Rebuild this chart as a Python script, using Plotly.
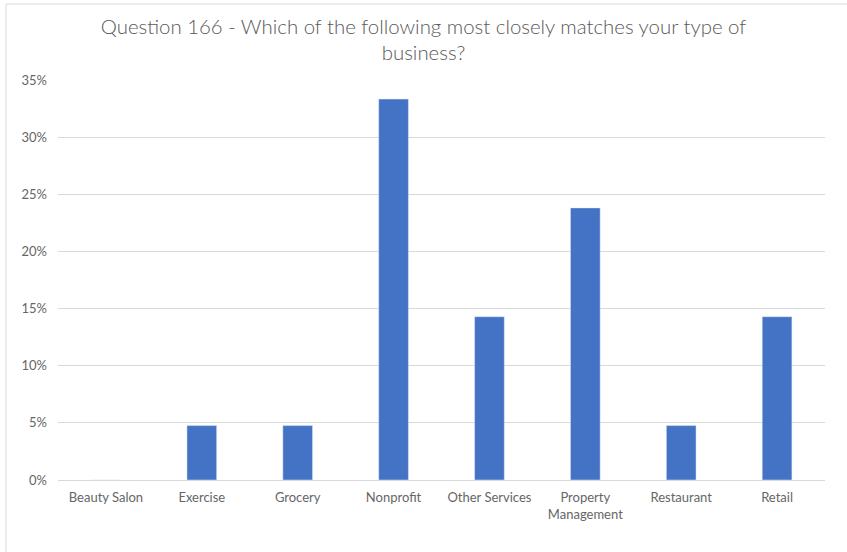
import plotly.graph_objects as go

categories = ["Beauty Salon", "Exercise", "Grocery", "Nonprofit", "Other Services",
              "Property<br>Management", "Restaurant", "Retail"]
values = [0.0, 0.0476, 0.0476, 0.3333, 0.1429, 0.2381, 0.0476, 0.1429]
title_text = "Question 166 - Which of the following most closely matches your type of<br>business?"

W, H = 847, 552
L, R, T, B = 58, 22, 80, 72
pw, ph = W - L - R, H - T - B

fig = go.Figure(go.Bar(x=categories, y=values, marker_color="#4472C4", width=0.31))

fig.update_layout(
    width=W, height=H,
    margin=dict(l=L, r=R, t=T, b=B),
    paper_bgcolor="white", plot_bgcolor="white",
    title=dict(text=title_text, x=0.5, xanchor="center", y=1 - 33.5 / H, yanchor="middle",
               font=dict(family="Lato Light, Lato", size=20.4, color="#595959", weight=300)),
    font=dict(family="Lato", size=13, color="#595959"),
    showlegend=False,
    xaxis=dict(showgrid=False, showline=True, linecolor="#D9D9D9", linewidth=1,
               tickfont=dict(size=13, color="#666666"), ticks="", ticklabelstandoff=5),
    yaxis=dict(range=[0, 0.35], dtick=0.05, tickformat=".0%", showgrid=True,
               gridcolor="#D9D9D9", gridwidth=1, zeroline=False, showline=False,
               tickfont=dict(size=13, color="#666666"), ticks="", ticklen=0,
               ticklabelstandoff=10),
    shapes=[dict(type="rect", xref="paper", yref="paper",
                 x0=(6 - L) / pw, x1=(W + 20 - L) / pw,
                 y0=(B - H - 20) / ph, y1=(H - 4 - B) / ph,
                 line=dict(color="#D9D9D9", width=1), fillcolor="rgba(0,0,0,0)",
                 layer="below")],
)

fig.write_html("out.html", config={"displayModeBar": False},
               post_script="document.body.style.margin='0';")
